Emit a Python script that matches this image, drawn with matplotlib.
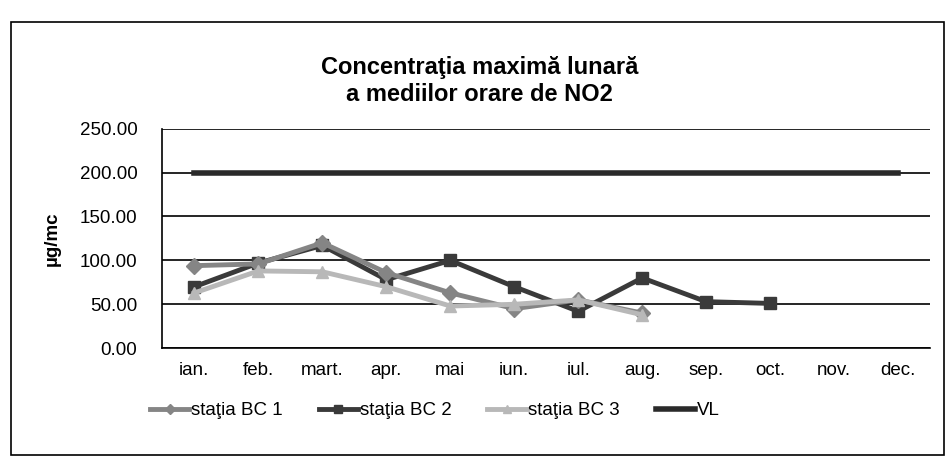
import numpy as np
import matplotlib.pyplot as plt
from matplotlib.patches import Rectangle

plt.rcParams['font.family'] = 'Liberation Sans'

months = ['ian.', 'feb.', 'mart.', 'apr.', 'mai', 'iun.', 'iul.', 'aug.',
          'sep.', 'oct.', 'nov.', 'dec.']
bc1 = [94, 96, 120, 86, 63, 45, 55, 40]
bc2 = [70, 97, 117, 78, 100, 70, 42, 80, 53, 51]
bc3 = [63, 88, 87, 70, 48, 50, 55, 38]
vl = [200] * 12

fig = plt.figure(figsize=(9.5, 4.63), dpi=100)
ax = fig.add_axes([0.171, 0.248, 0.808, 0.474])

x = np.arange(len(months))
ax.plot(x[:len(bc1)], bc1, color='#858585', lw=3.5, marker='D', ms=8,
        label='staţia BC 1', zorder=4)
ax.plot(x[:len(bc2)], bc2, color='#3a3a3a', lw=3.5, marker='s', ms=8,
        label='staţia BC 2', zorder=3)
ax.plot(x[:len(bc3)], bc3, color='#b8b8b8', lw=3.5, marker='^', ms=8,
        label='staţia BC 3', zorder=5)
ax.plot(x, vl, color='#2a2a2a', lw=4, label='VL', zorder=2)

ax.set_xlim(-0.5, 11.5)
ax.set_ylim(0, 250)
ax.set_yticks(np.arange(0, 251, 50))
ax.set_yticklabels(['%.2f' % v for v in np.arange(0, 251, 50)])
ax.set_xticks(x)
ax.set_xticklabels(months)
ax.tick_params(length=0, labelsize=13.5)
ax.tick_params(axis='y', pad=18)
ax.tick_params(axis='x', pad=10)
ax.grid(axis='y', color='black', lw=1.2)
for s in ['top', 'right']:
    ax.spines[s].set_visible(False)
ax.spines['left'].set_linewidth(1.2)
ax.spines['bottom'].set_linewidth(1.2)
ax.set_ylabel('µg/mc', fontsize=13.5, fontweight='bold', labelpad=14)

fig.text(0.505, 0.825, 'Concentraţia maximă lunară\na mediilor orare de NO2',
         ha='center', va='center', fontsize=17, fontweight='bold',
         linespacing=1.25)

ax.legend(loc='upper center', bbox_to_anchor=(0.355, -0.17), ncol=4,
          frameon=False, fontsize=13.5, handlelength=2.1, columnspacing=1.9,
          handletextpad=0.1, markerscale=0.7)

fig.patches.append(Rectangle((0.012, 0.017), 0.982, 0.935,
                             transform=fig.transFigure, fill=False,
                             edgecolor='black', lw=1.2))

plt.savefig('out.png', dpi=100)
plt.close()
